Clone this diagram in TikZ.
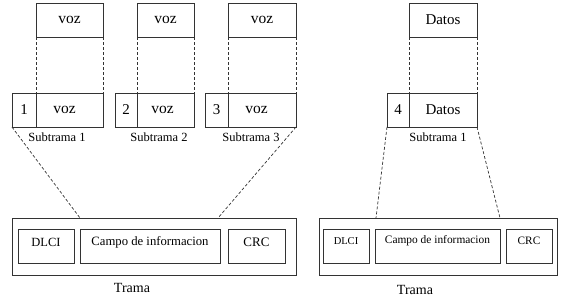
\documentclass[tikz,border=0pt]{standalone}
\usepackage{fontspec}
\setmainfont{Liberation Serif}
\begin{document}
\begin{tikzpicture}[x=1pt,y=-1pt,
  box/.style={draw=black!80,line width=0.8pt,minimum height=34pt,inner sep=0pt,outer sep=0pt},
  frame/.style={draw=black!80,line width=0.8pt,minimum height=57pt,inner sep=0pt,outer sep=0pt},
  lbl/.style={inner sep=0pt,text=black},
  dsh/.style={draw=black!80,line width=0.7pt,dash pattern=on 3pt off 2pt}]
\useasboundingbox (0,0) rectangle (566,306);
% top boxes
\node[box,minimum width=67pt] (t1) at (69.5,20) {\fontsize{15.5}{17}\selectfont voz};
\node[box,minimum width=57pt] (t2) at (165.5,20) {\fontsize{15.5}{17}\selectfont voz};
\node[box,minimum width=68pt] (t3) at (262,20) {\fontsize{15.5}{17}\selectfont voz};
\node[box,minimum width=68pt] (t4) at (443,20) {\fontsize{15}{17}\selectfont Datos};
% subtramas
\node[box,minimum width=24pt] (n1) at (24,110) {\fontsize{15}{17}\selectfont 1};
\node[box,minimum width=67pt] (b1) at (69.5,110) {\fontsize{15.5}{17}\selectfont\hspace*{-10pt}voz};
\node[box,minimum width=22pt] (n2) at (126,110) {\fontsize{15}{17}\selectfont 2};
\node[box,minimum width=57pt] (b2) at (165.5,110) {\fontsize{15.5}{17}\selectfont\hspace*{-6pt}voz};
\node[box,minimum width=23pt] (n3) at (216.5,110) {\fontsize{15}{17}\selectfont 3};
\node[box,minimum width=68pt] (b3) at (262,110) {\fontsize{15.5}{17}\selectfont\hspace*{-11pt}voz};
\node[box,minimum width=22pt] (n4) at (398,110) {\fontsize{15}{17}\selectfont 4};
\node[box,minimum width=68pt] (b4) at (443,110) {\fontsize{15}{17}\selectfont Datos};
\node[lbl] (l1) at (57,137) {\fontsize{12.5}{14}\selectfont Subtrama 1};
\node[lbl] (l2) at (159,137) {\fontsize{12.5}{14}\selectfont Subtrama 2};
\node[lbl] (l3) at (251,137) {\fontsize{12.5}{14}\selectfont Subtrama 3};
\node[lbl] (l4) at (438,137) {\fontsize{12.5}{14}\selectfont Subtrama 1};
% vertical dashed
\draw[dsh] (t1.south west) -- (b1.north west);
\draw[dsh] (t1.south east) -- (b1.north east);
\draw[dsh] (t2.south west) -- (b2.north west);
\draw[dsh] (t2.south east) -- (b2.north east);
\draw[dsh] (t3.south west) -- (b3.north west);
\draw[dsh] (t3.south east) -- (b3.north east);
\draw[dsh] (t4.south west) -- (b4.north west);
\draw[dsh] (t4.south east) -- (b4.north east);
% left trama
\node[frame,minimum width=284pt] (f1) at (154,246.5) {};
\node[box,minimum width=56pt] (d1) at (46,246) {};
\node[box,minimum width=140pt] (c1) at (150,246) {};
\node[box,minimum width=57pt] (r1) at (256.5,246) {};
\node[lbl] at ([yshift=4pt]d1.center) {\fontsize{12.5}{14}\selectfont DLCI};
\node[lbl] at ([yshift=4pt]c1.center) {\fontsize{12.7}{14}\selectfont Campo de informacion};
\node[lbl] at ([yshift=4pt]r1.center) {\fontsize{13}{15}\selectfont CRC};
\node[lbl] (tr1) at (132,288) {\fontsize{14}{16}\selectfont Trama};
% right trama
\node[frame,minimum width=238pt] (f2) at (438,246.5) {};
\node[box,minimum width=46pt] (d2) at (346,246) {};
\node[box,minimum width=125pt] (c2) at (437.5,246) {};
\node[box,minimum width=46pt] (r2) at (529,246) {};
\node[lbl] at ([yshift=5pt]d2.center) {\fontsize{10.5}{12}\selectfont DLCI};
\node[lbl] at ([yshift=5pt]c2.center) {\fontsize{11.4}{13}\selectfont Campo de informacion};
\node[lbl] at ([yshift=5pt]r2.center) {\fontsize{11.3}{13}\selectfont CRC};
\node[lbl] (tr2) at (415,290) {\fontsize{14}{16}\selectfont Trama};
% slanted dashed
\coordinate (a1) at (80,218);
\coordinate (a2) at (218,218);
\coordinate (a3) at (376,218);
\coordinate (a4) at (500,218);
\draw[dsh] (n1.south west) -- (a1);
\draw[dsh] (b3.south east) -- (a2);
\draw[dsh] (n4.south west) -- (a3);
\draw[dsh] (b4.south east) -- (a4);
\end{tikzpicture}
\end{document}
